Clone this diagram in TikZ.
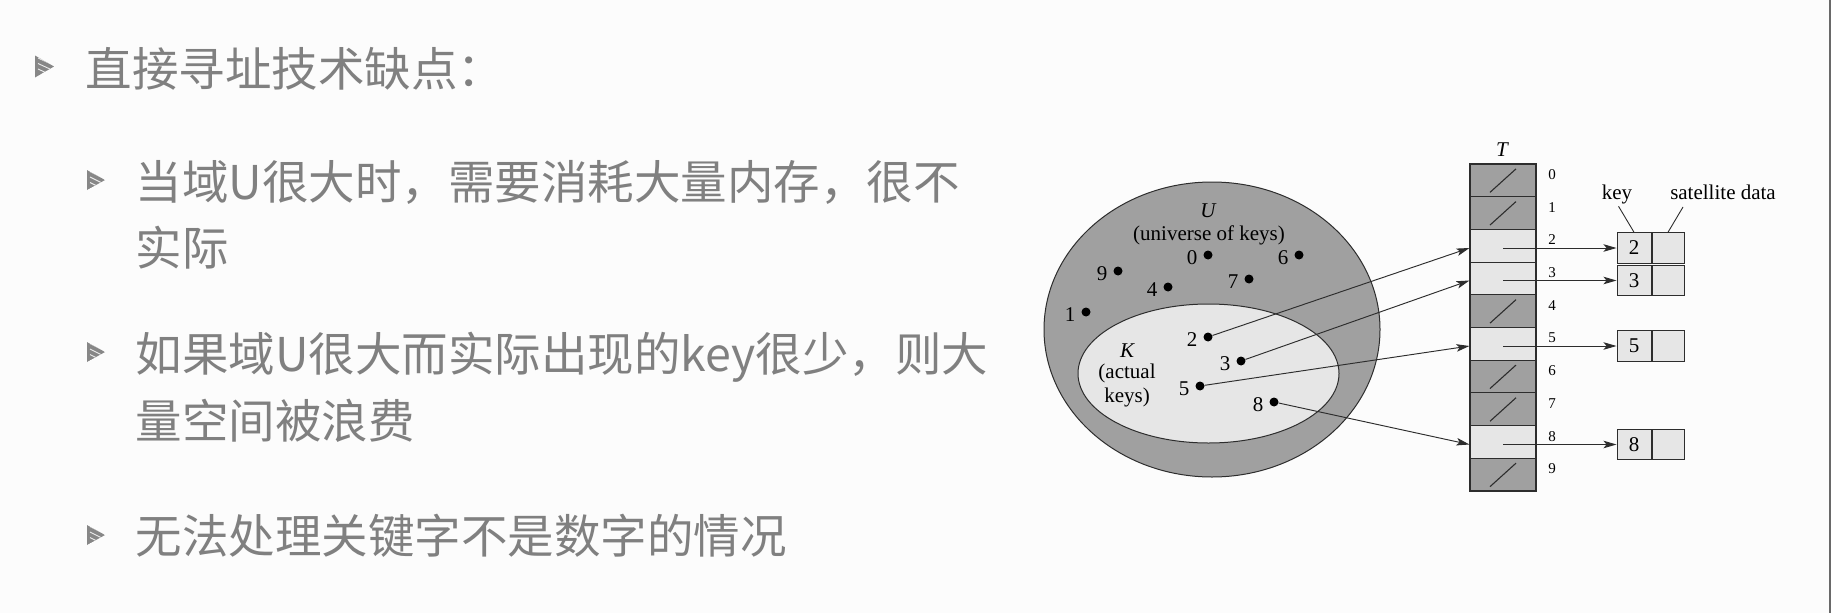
\documentclass[tikz,border=0pt]{standalone}
\usepackage{fontspec}
\setmainfont{Liberation Serif}
\newfontfamily\cjk{Noto Sans CJK SC}
\usetikzlibrary{shapes.geometric,arrows.meta,calc}
\definecolor{txtgray}{RGB}{128,128,128}
\definecolor{bulgray}{RGB}{135,135,135}
\definecolor{darkfill}{RGB}{160,160,160}
\definecolor{lightfill}{RGB}{230,230,230}
\definecolor{edgecol}{RGB}{45,45,45}
\definecolor{bgcol}{RGB}{252,252,252}
\definecolor{framecol}{RGB}{105,105,105}
\begin{document}
\begin{tikzpicture}[x=1pt,y=-1pt,
  cjktext/.style={anchor=base west, inner sep=0pt, text=txtgray, font=\cjk\fontsize{46.5}{56}\selectfont},
  fig/.style={inner sep=0pt, text=black, font=\fontsize{21}{25}\selectfont},
  figit/.style={inner sep=0pt, text=black, font=\fontsize{21}{25}\selectfont\itshape},
  idx/.style={inner sep=0pt, text=black, font=\fontsize{15}{18}\selectfont},
  dot/.style={circle, fill=black, inner sep=0pt, minimum size=9pt},
  darkcell/.style={draw=edgecol, line width=1.1pt, fill=darkfill, minimum width=66pt, minimum height=32.7pt, inner sep=0pt},
  lightcell/.style={darkcell, fill=lightfill},
  keycell/.style={draw=edgecol, line width=1pt, fill=lightfill, minimum width=34pt, minimum height=30.5pt, inner sep=0pt, font=\fontsize{21}{25}\selectfont},
  satcell/.style={keycell, minimum width=32pt},
  arr/.style={-{Stealth[length=13pt,width=7.5pt,inset=3pt]}, line width=0.95pt, draw=edgecol},
  thinline/.style={line width=0.9pt, draw=edgecol}]
\useasboundingbox (0,0) rectangle (1831,613);
\fill[bgcol] (0,0) rectangle (1831,613);
\draw[framecol, line width=2pt] (1830,0) -- (1830,613);

% bullets
\foreach \bx/\by/\bw/\bh in {35/66.5/19/22, 87/180/18/20, 87/352/18/20, 87/535/18/20} {
  \begin{scope}
    \clip (\bx,\by-\bh/2) -- (\bx+\bw,\by) -- (\bx,\by+\bh/2) -- cycle;
    \fill[bulgray] (\bx,\by-\bh/2) -- (\bx+\bw,\by) -- (\bx,\by+\bh/2) -- cycle;
    \foreach \k in {-1,0,1}
      \draw[white!85!bulgray, line width=0.9pt] (\bx+3,\by+\k*5.5-3) -- (\bx+\bw-3,\by+\k*5.5+3);
  \end{scope}
}

% text
\node[cjktext] (t1) at (85.5,86) {直接寻址技术缺点：};
\node[cjktext] (t2a) at (135.5,199) {当域U很大时，需要消耗大量内存，很不};
\node[cjktext] (t2b) at (135.5,265) {实际};
\node[cjktext] (t3a) at (135.5,371) {如果域U很大而实际出现的key很少，则大};
\node[cjktext] (t3b) at (135.5,438) {量空间被浪费};
\node[cjktext] (t4) at (135.5,553) {无法处理关键字不是数字的情况};

% universe
\node[ellipse, draw=edgecol, line width=1pt, fill=darkfill, minimum width=336pt, minimum height=295pt, inner sep=0pt] (U) at (1212,329.5) {};
\node[ellipse, draw=edgecol, line width=1pt, fill=lightfill, minimum width=261pt, minimum height=139pt, inner sep=0pt] (K) at (1208.5,373.5) {};

\node[figit, anchor=base] (Ulbl) at (1208,217) {U};
\node[fig, anchor=base] (Udesc) at (1209,240) {(universe of keys)};
\node[figit, anchor=base] (Klbl) at (1127,357) {K};
\node[fig, anchor=base] (Kd1) at (1127,378) {(actual};
\node[fig, anchor=base] (Kd2) at (1127,402) {keys)};

\foreach \n/\px/\py in {0/1208/255, 6/1299/255, 9/1118/271, 7/1249/279, 4/1168/287, 1/1086/312, 2/1208/337, 3/1241/361, 5/1200/386, 8/1274/402} {
  \node[dot] (d\n) at (\px,\py) {};
  \node[fig] (l\n) at (\px-16,\py+3) {\n};
}

% table
\node[figit, anchor=base] (Tlbl) at (1502,156) {T};
\node[darkcell]  (c0) at (1503,180.35) {};
\node[darkcell]  (c1) at (1503,213.05) {};
\node[lightcell] (c2) at (1503,245.75) {};
\node[lightcell] (c3) at (1503,278.45) {};
\node[darkcell]  (c4) at (1503,311.15) {};
\node[lightcell] (c5) at (1503,343.85) {};
\node[darkcell]  (c6) at (1503,376.55) {};
\node[darkcell]  (c7) at (1503,409.25) {};
\node[lightcell] (c8) at (1503,441.95) {};
\node[darkcell]  (c9) at (1503,474.65) {};
\foreach \i in {0,1,4,6,7,9}
  \draw[line width=1.1pt, edgecol] ($(c\i.center)+(-13,12)$) -- ($(c\i.center)+(13,-11.5)$);
\foreach \i/\py in {0/174.5, 1/207.2, 2/239.9, 3/272.6, 4/305.3, 5/338.0, 6/370.7, 7/403.4, 8/436.1, 9/468.8}
  \node[idx] (i\i) at (1552,\py) {\i};

% key boxes
\foreach \n/\py in {2/248, 3/280.5, 5/346, 8/444.5} {
  \node[keycell] (k\n) at (1634,\py) {\n};
  \node[satcell, anchor=west] (s\n) at (k\n.east) {};
  \draw[arr] (c\n.center |- k\n.west) -- (k\n.west);
  \draw[arr] (d\n) -- (c\n.west |- k\n.west);
}

\node[fig, anchor=base] (keylbl) at (1617,199) {key};
\node[fig, anchor=base] (satlbl) at (1723,199) {satellite data};
\coordinate (satend) at (1683,207);
\draw[thinline, shorten <=3pt] (keylbl.south) -- (k2.north);
\draw[thinline] (satend) -- (s2.north);
\end{tikzpicture}
\end{document}
